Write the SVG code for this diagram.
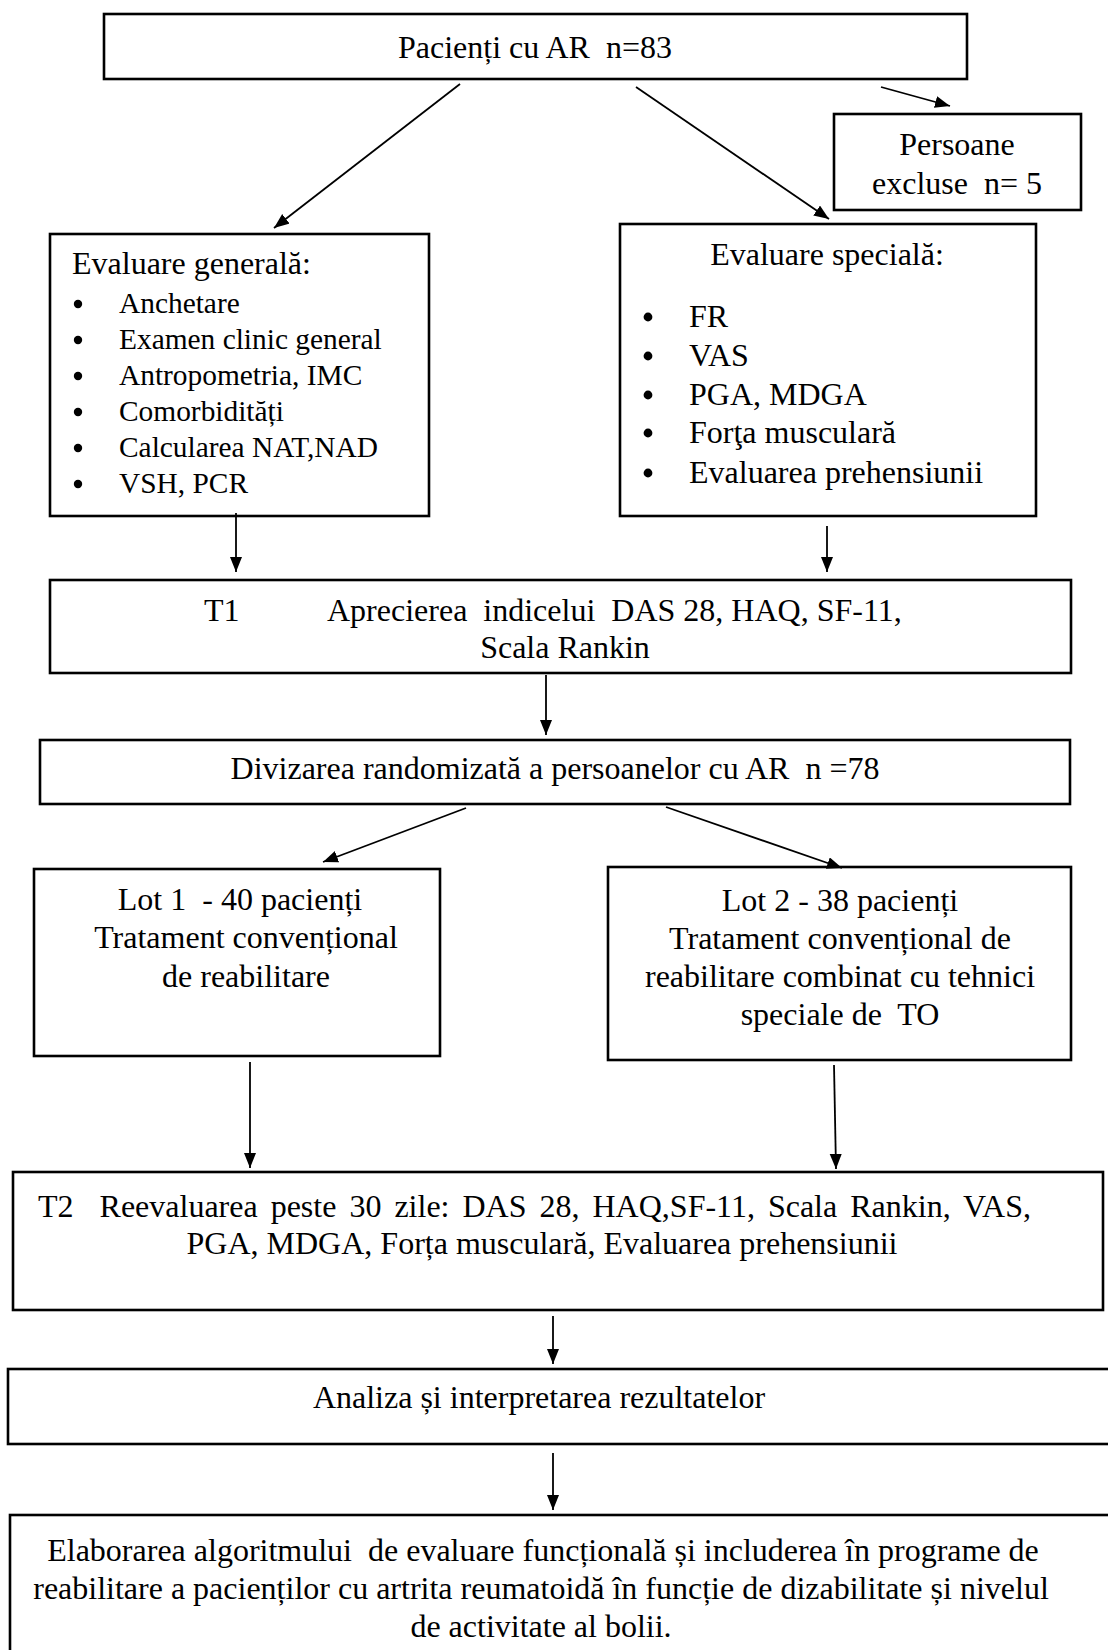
<svg xmlns="http://www.w3.org/2000/svg" width="1108" height="1650" viewBox="0 0 1108 1650">
<style>
  rect.box { fill: #fff; stroke: #000; stroke-width: 2.6; }
  text { font-family: "Liberation Serif", "Times New Roman", serif; font-size: 32px; fill: #000; white-space: pre; }
  .c { text-anchor: middle; }
  .sm { font-size: 29.4px; }
  .con line { stroke: #000; stroke-width: 1.8; marker-end: url(#ah); }
  circle.b { fill: #000; }
</style>
<defs>
  <marker id="ah" markerUnits="userSpaceOnUse" markerWidth="16" markerHeight="14" refX="15" refY="6" orient="auto">
    <path d="M0,0 L15,6 L0,12 z" fill="#000"/>
  </marker>
</defs>
<rect width="1108" height="1650" fill="#fff"/>

<g id="n-pacienti">
  <rect class="box" x="104" y="14" width="863" height="65"/>
  <text class="c" x="535" y="58">Pacienți cu AR  n=83</text>
</g>
<g id="n-excluse">
  <rect class="box" x="834" y="114" width="247" height="96"/>
  <text class="c" x="957" y="155">Persoane</text>
  <text class="c" x="957" y="194">excluse  n= 5</text>
</g>
<g id="n-generala">
  <rect class="box" x="50" y="234" width="379" height="282"/>
  <text x="72" y="274">Evaluare generală:</text>
  <circle class="b" cx="78" cy="304" r="4.2"/><text class="sm" x="119" y="313">Anchetare</text>
  <circle class="b" cx="78" cy="340" r="4.2"/><text class="sm" x="119" y="349">Examen clinic general</text>
  <circle class="b" cx="78" cy="376" r="4.2"/><text class="sm" x="119" y="385">Antropometria, IMC</text>
  <circle class="b" cx="78" cy="412" r="4.2"/><text class="sm" x="119" y="421">Comorbidități</text>
  <circle class="b" cx="78" cy="448" r="4.2"/><text class="sm" x="119" y="457">Calcularea NAT,NAD</text>
  <circle class="b" cx="78" cy="484" r="4.2"/><text class="sm" x="119" y="493">VSH, PCR</text>
</g>
<g id="n-speciala">
  <rect class="box" x="620" y="224" width="416" height="292"/>
  <text class="c" x="827" y="265">Evaluare specială:</text>
  <circle class="b" cx="648" cy="317" r="4.4"/><text x="689" y="327">FR</text>
  <circle class="b" cx="648" cy="356" r="4.4"/><text x="689" y="366">VAS</text>
  <circle class="b" cx="648" cy="395" r="4.4"/><text x="689" y="405">PGA, MDGA</text>
  <circle class="b" cx="648" cy="433" r="4.4"/><text x="689" y="443">Forţa musculară</text>
  <circle class="b" cx="648" cy="473" r="4.4"/><text x="689" y="483">Evaluarea prehensiunii</text>
</g>
<g id="n-t1">
  <rect class="box" x="50" y="580" width="1021" height="93"/>
  <text x="204" y="621">T1</text>
  <text x="327" y="621">Aprecierea  indicelui  DAS 28, HAQ, SF-11,</text>
  <text class="c" x="565" y="658">Scala Rankin</text>
</g>
<g id="n-divizarea">
  <rect class="box" x="40" y="740" width="1030" height="64"/>
  <text class="c" x="555" y="779">Divizarea randomizată a persoanelor cu AR  n =78</text>
</g>
<g id="n-lot1">
  <rect class="box" x="34" y="869" width="406" height="187"/>
  <text class="c" x="240" y="910">Lot 1  - 40 pacienți</text>
  <text class="c" x="246" y="948">Tratament convențional</text>
  <text class="c" x="246" y="987">de reabilitare</text>
</g>
<g id="n-lot2">
  <rect class="box" x="608" y="867" width="463" height="193"/>
  <text class="c" x="840" y="911">Lot 2 - 38 pacienți</text>
  <text class="c" x="840" y="949">Tratament convențional de</text>
  <text class="c" x="840" y="987">reabilitare combinat cu tehnici</text>
  <text class="c" x="840" y="1025">speciale de  TO</text>
</g>
<g id="n-t2">
  <rect class="box" x="13" y="1172" width="1090" height="138"/>
  <text x="38" y="1217" style="word-spacing:5px">T2  Reevaluarea peste 30 zile: DAS 28, HAQ,SF-11, Scala Rankin, VAS,</text>
  <text class="c" x="542" y="1254">PGA, MDGA, Forța musculară, Evaluarea prehensiunii</text>
</g>
<g id="n-analiza">
  <rect class="box" x="8" y="1369" width="1115" height="75"/>
  <text class="c" x="539" y="1408">Analiza și interpretarea rezultatelor</text>
</g>
<g id="n-elaborare">
  <rect class="box" x="10" y="1515" width="1115" height="200"/>
  <text class="c" x="539" y="1561"> Elaborarea algoritmului  de evaluare funcțională și includerea în programe de</text>
  <text class="c" x="541" y="1599">reabilitare a pacienților cu artrita reumatoidă în funcție de dizabilitate și nivelul</text>
  <text class="c" x="541" y="1637">de activitate al bolii.</text>
</g>

<g id="connectors" class="con">
  <line x1="881" y1="87" x2="950" y2="106"/>
  <line x1="460" y1="84" x2="274" y2="228"/>
  <line x1="636" y1="87" x2="829" y2="219"/>
  <line x1="236" y1="513" x2="236" y2="572"/>
  <line x1="827" y1="526" x2="827" y2="572"/>
  <line x1="546" y1="675" x2="546" y2="735"/>
  <line x1="466" y1="808" x2="323" y2="862"/>
  <line x1="666" y1="807" x2="842" y2="868"/>
  <line x1="250" y1="1062" x2="250" y2="1168"/>
  <line x1="834" y1="1065" x2="836" y2="1169"/>
  <line x1="553" y1="1316" x2="553" y2="1364"/>
  <line x1="553" y1="1453" x2="553" y2="1510"/>
</g>
</svg>
